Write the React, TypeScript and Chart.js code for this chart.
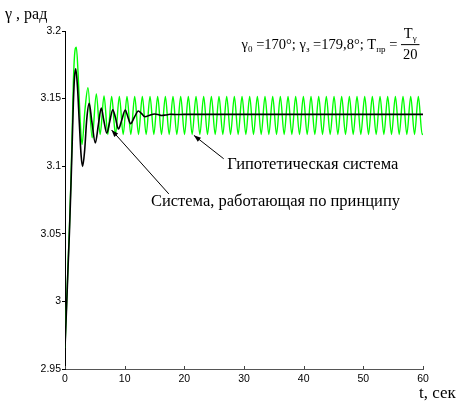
import React, { useEffect, useRef } from "react";
import { Chart, registerables } from "chart.js";

Chart.register(...registerables);

// ---- data ----
const greenT = [
  0, 0.25, 0.5, 0.75, 1.0, 1.2, 1.4, 1.6, 1.9, 2.2, 2.5, 2.85, 3.35, 3.85, 4.55, 5.25,
  5.89, 6.54, 7.18, 7.82, 8.46, 9.11, 9.75, 10.39, 11.03, 11.68, 12.32, 12.96,
  13.6, 14.25, 14.89, 15.53, 16.17, 16.82, 17.46, 18.1, 18.74, 19.39, 20.03, 20.67,
  21.31, 21.96, 22.6, 23.24, 23.88, 24.53, 25.17, 25.81, 26.45, 27.1, 27.74, 28.38,
  29.02, 29.67, 30.31, 30.95, 31.59, 32.24, 32.88, 33.52, 34.16, 34.81, 35.45, 36.09,
  36.73, 37.38, 38.02, 38.66, 39.3, 39.95, 40.59, 41.23, 41.87, 42.52, 43.16, 43.8,
  44.44, 45.09, 45.73, 46.37, 47.01, 47.66, 48.3, 48.94, 49.58, 50.23, 50.87, 51.51,
  52.15, 52.8, 53.44, 54.08, 54.72, 55.37, 56.01, 56.65, 57.29, 57.94, 58.58, 59.22,
  59.86, 60,
];
const greenY = [
  2.966, 2.996, 3.026, 3.056, 3.09, 3.125, 3.162, 3.182, 3.188, 3.168, 3.138, 3.116, 3.142, 3.158, 3.121, 3.1535,
  3.1235, 3.152, 3.1235, 3.1515, 3.1235, 3.1515, 3.1235, 3.1515, 3.1235, 3.1515, 3.1235, 3.1515,
  3.1235, 3.1515, 3.1235, 3.1515, 3.1235, 3.1515, 3.1235, 3.1515, 3.1235, 3.1515, 3.1235, 3.1515,
  3.1235, 3.1515, 3.1235, 3.1515, 3.1235, 3.1515, 3.1235, 3.1515, 3.1235, 3.1515, 3.1235, 3.1515,
  3.1235, 3.1515, 3.1235, 3.1515, 3.1235, 3.1515, 3.1235, 3.1515, 3.1235, 3.1515, 3.1235, 3.1515,
  3.1235, 3.1515, 3.1235, 3.1515, 3.1235, 3.1515, 3.1235, 3.1515, 3.1235, 3.1515, 3.1235, 3.1515,
  3.1235, 3.1515, 3.1235, 3.1515, 3.1235, 3.1515, 3.1235, 3.1515, 3.1235, 3.1515, 3.1235, 3.1515,
  3.1235, 3.1515, 3.1235, 3.1515, 3.1235, 3.1515, 3.1235, 3.1515, 3.1235, 3.1515, 3.1235, 3.1515,
  3.1235, 3.124,
];

const blackT = [
  0, 0.25, 0.5, 0.75, 1.0, 1.2, 1.4, 1.6, 1.8, 2.1, 2.4, 2.7, 2.96, 3.3, 3.65, 4.05,
  4.5, 5.08, 5.6, 6.08, 6.5, 7.0, 7.5, 8.0, 8.45, 8.95, 9.5, 10.1, 10.5, 11.0, 11.6,
  12.3, 12.8, 13.4, 14.2, 15.0, 15.6, 16.2, 16.9, 17.6, 18.5, 20, 25, 30, 40, 50, 60,
];
const blackY = [
  2.966, 2.994, 3.024, 3.052, 3.086, 3.116, 3.147, 3.166, 3.172, 3.158, 3.132, 3.108, 3.0999, 3.112, 3.135, 3.1465,
  3.133, 3.1172, 3.131, 3.143, 3.134, 3.1245, 3.133, 3.1418, 3.136, 3.1275, 3.134, 3.1416, 3.137, 3.1315, 3.136,
  3.1408, 3.139, 3.1366, 3.1377, 3.1386, 3.1382, 3.1375, 3.1379, 3.1384, 3.1382, 3.1383, 3.1383, 3.1383, 3.1383, 3.1383, 3.1383,
];

const xTickValues = [0, 10, 20, 30, 40, 50, 60];
const xTickLabels = ["0", "10", "20", "30", "40", "50", "60"];
const yTickValues = [2.95, 3, 3.05, 3.1, 3.15, 3.2];
const yTickLabels = ["2.95", "3", "3.05", "3.1", "3.15", "3.2"];

const seriesNames = ["Система, работающая по принципу", "Гипотетическая система"];
const yTitle = "γ , рад";
const xTitle = "t, сек";

// ---- annotation placement (data coordinates) ----
const notes = {
  hypText: { t: 27.2, y: 3.1013 },
  hypFrom: { t: 26.6, y: 3.1055 },
  hypTo: { t: 21.6, y: 3.1228 },
  sysText: { t: 14.4, y: 3.0735 },
  sysFrom: { t: 17.4, y: 3.0795 },
  sysTo: { t: 7.8, y: 3.1268 },
  formula: { t: 29.6, y: 3.1866 },
};

const SERIF = '"Liberation Serif", "Times New Roman", serif';
const SANS = '"Liberation Sans", Arial, sans-serif';

function drawRich(ctx: CanvasRenderingContext2D, parts: { t: string; sub?: boolean }[], x: number, y: number, size: number) {
  let cx = x;
  ctx.textBaseline = "alphabetic";
  ctx.textAlign = "left";
  for (const p of parts) {
    const s = p.sub ? Math.round(size * 0.6) : size;
    ctx.font = `${s}px ${SERIF}`;
    ctx.fillText(p.t, cx, p.sub ? y + size * 0.22 : y);
    cx += ctx.measureText(p.t).width;
  }
  return cx;
}

function measureRich(ctx: CanvasRenderingContext2D, parts: { t: string; sub?: boolean }[], size: number) {
  let w = 0;
  for (const p of parts) {
    const s = p.sub ? Math.round(size * 0.6) : size;
    ctx.font = `${s}px ${SERIF}`;
    w += ctx.measureText(p.t).width;
  }
  return w;
}

function arrow(ctx: CanvasRenderingContext2D, x1: number, y1: number, x2: number, y2: number) {
  ctx.save();
  ctx.strokeStyle = "#000";
  ctx.fillStyle = "#000";
  ctx.lineWidth = 1;
  ctx.beginPath();
  ctx.moveTo(x1, y1);
  ctx.lineTo(x2, y2);
  ctx.stroke();
  const a = Math.atan2(y2 - y1, x2 - x1);
  const L = 7, W = 2.6;
  ctx.beginPath();
  ctx.moveTo(x2, y2);
  ctx.lineTo(x2 - L * Math.cos(a) + W * Math.sin(a), y2 - L * Math.sin(a) - W * Math.cos(a));
  ctx.lineTo(x2 - L * Math.cos(a) - W * Math.sin(a), y2 - L * Math.sin(a) + W * Math.cos(a));
  ctx.closePath();
  ctx.fill();
  ctx.restore();
}

const decorPlugin = {
  id: "decor",
  afterDraw(chart: any) {
    const ctx: CanvasRenderingContext2D = chart.ctx;
    const xs = chart.scales.x;
    const ys = chart.scales.y;
    const X = (t: number) => xs.getPixelForValue(t);
    const Y = (v: number) => ys.getPixelForValue(v);
    ctx.save();
    // inward x ticks
    ctx.strokeStyle = "#444";
    ctx.lineWidth = 1;
    for (const v of xTickValues) {
      const px = Math.round(X(v)) + 0.5;
      ctx.beginPath();
      ctx.moveTo(px, ys.bottom);
      ctx.lineTo(px, ys.bottom - 3);
      ctx.stroke();
    }
    ctx.fillStyle = "#000";
    // axis titles
    ctx.font = `16px ${SERIF}`;
    ctx.textAlign = "left";
    ctx.textBaseline = "middle";
    ctx.fillText(yTitle, 5, 15);
    ctx.font = `17px ${SERIF}`;
    ctx.fillText(xTitle, 419, 394);
    // labels
    ctx.font = `16.5px ${SERIF}`;
    ctx.fillText(seriesNames[1], X(notes.hypText.t), Y(notes.hypText.y));
    ctx.fillText(seriesNames[0], X(notes.sysText.t), Y(notes.sysText.y));
    arrow(ctx, X(notes.hypFrom.t), Y(notes.hypFrom.y), X(notes.hypTo.t), Y(notes.hypTo.y));
    arrow(ctx, X(notes.sysFrom.t), Y(notes.sysFrom.y), X(notes.sysTo.t), Y(notes.sysTo.y));
    // formula
    const size = 14.5;
    const bx = X(notes.formula.t);
    const by = Y(notes.formula.y);
    const end = drawRich(ctx, [
      { t: "γ" }, { t: "0", sub: true }, { t: " =170°; γ" }, { t: "з", sub: true },
      { t: " =179,8°; T" }, { t: "пр", sub: true }, { t: " = " },
    ], bx, by, size);
    const num = [{ t: "T" }, { t: "γ", sub: true }];
    const den = [{ t: "20" }];
    const wn = measureRich(ctx, num, size);
    const wd = measureRich(ctx, den, size);
    const w = Math.max(wn, wd) + 4;
    const lineY = by - 5;
    ctx.fillStyle = "#000";
    ctx.fillRect(end, lineY, w, 1);
    drawRich(ctx, num, end + (w - wn) / 2, lineY - 6, size);
    drawRich(ctx, den, end + (w - wd) / 2, lineY + 15, size);
    ctx.restore();
  },
};

export default function App() {
  const ref = useRef<HTMLCanvasElement | null>(null);
  useEffect(() => {
    if (!ref.current) return;
    const chart = new Chart(ref.current, {
      type: "line",
      data: {
        datasets: [
          {
            label: seriesNames[0],
            data: blackT.map((t, i) => ({ x: t, y: blackY[i] })),
            borderColor: "#000",
            borderWidth: 1.6,
            pointRadius: 0,
            cubicInterpolationMode: "monotone",
          },
          {
            label: seriesNames[1],
            data: greenT.map((t, i) => ({ x: t, y: greenY[i] })),
            borderColor: "rgb(0,255,0)",
            borderWidth: 1.4,
            pointRadius: 0,
            cubicInterpolationMode: "monotone",
          },
        ],
      },
      options: {
        animation: false,
        responsive: false,
        events: [],
        layout: { padding: { top: 31, right: 35, left: 0, bottom: 0 } },
        plugins: { legend: { display: false }, tooltip: { enabled: false } },
        scales: {
          x: {
            type: "linear",
            min: 0,
            max: 60,
            afterFit: (s: any) => { s.height = 36; },
            afterBuildTicks: (s: any) => { s.ticks = xTickValues.map((v) => ({ value: v })); },
            ticks: {
              autoSkip: false,
              maxRotation: 0,
              padding: 4,
              color: "#000",
              font: { family: SANS, size: 10.5 },
              callback: (v: any, i: number) => xTickLabels[i],
            },
            grid: { drawOnChartArea: false, drawTicks: false },
            border: { color: "#555", width: 1 },
          },
          y: {
            type: "linear",
            min: 2.95,
            max: 3.2,
            afterFit: (s: any) => { s.width = 65; },
            afterBuildTicks: (s: any) => { s.ticks = yTickValues.map((v) => ({ value: v })); },
            ticks: {
              autoSkip: false,
              padding: 1,
              color: "#000",
              font: { family: SANS, size: 10.5 },
              callback: (v: any, i: number) => yTickLabels[i],
            },
            grid: { drawOnChartArea: false, drawTicks: true, tickLength: 3, color: "#000" },
            border: { color: "#000", width: 1 },
          },
        },
      },
      plugins: [decorPlugin],
    });
    return () => chart.destroy();
  }, []);
  return (
    <div style={{ position: "absolute", left: 0, top: 0, width: 458, height: 405, background: "#fff" }}>
      <canvas ref={ref} width={458} height={405} />
    </div>
  );
}
